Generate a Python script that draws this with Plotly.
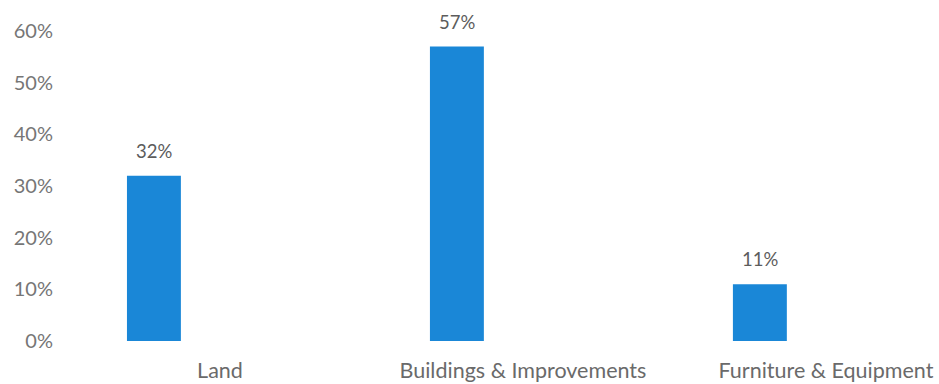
import plotly.graph_objects as go

categories = ["Land", "Buildings & Improvements", "Furniture & Equipment"]
values = [32, 57, 11]
y_ticks = [0, 10, 20, 30, 40, 50, 60]

bar_color = "#1a87d7"
text_color = "#6e6e6e"
font_family = "Lato, 'Open Sans', sans-serif"
label_offset = 0.218  # category labels sit right of the bars in the reference

fig = go.Figure()
fig.add_trace(go.Bar(
    x=[0, 1, 2], y=values, width=0.178,
    marker=dict(color=bar_color, line=dict(width=0)),
    hoverinfo="skip",
))

for i, v in enumerate(values):
    fig.add_annotation(x=i, y=v, text=f"{v}%", showarrow=False,
                       yanchor="middle", yshift=25,
                       font=dict(family=font_family, size=18.5, color="#5c5c5c"))

fig.update_layout(
    width=939, height=384,
    margin=dict(l=60, r=14, t=31, b=43),
    paper_bgcolor="white", plot_bgcolor="white",
    showlegend=False,
    font=dict(family=font_family, size=20, color=text_color),
    xaxis=dict(range=[-0.310, 2.545], tickmode="array",
               tickvals=[i + label_offset for i in range(len(categories))],
               ticktext=categories, showgrid=False, zeroline=False,
               showline=False, ticks="", ticklabelstandoff=14,
               automargin=False, tickfont=dict(size=21.5, color="#6a6a6a")),
    yaxis=dict(range=[0, 60], tickmode="array", tickvals=y_ticks,
               ticktext=[f"{t}%" for t in y_ticks], showgrid=False,
               zeroline=False, showline=False, ticks="", ticklabelstandoff=6,
               automargin=False, tickfont=dict(size=20, color="#767676")),
)

fig.write_html("out.html")
